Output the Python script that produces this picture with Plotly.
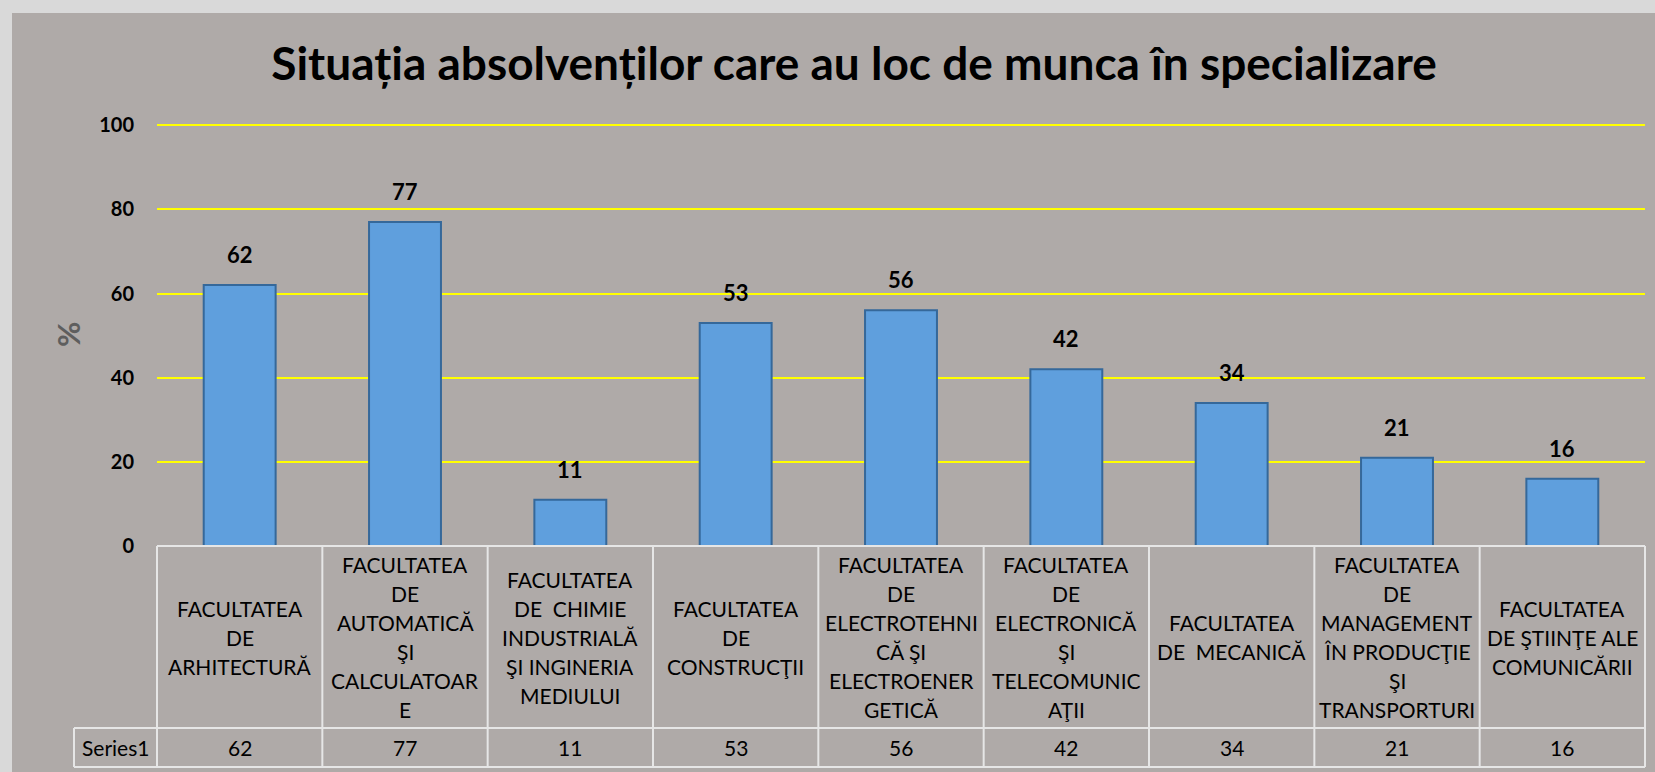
import plotly.graph_objects as go

# ---------------- data ----------------
categories = [
    "FACULTATEA<br>DE<br>ARHITECTURĂ",
    "FACULTATEA<br>DE<br>AUTOMATICĂ<br>ŞI<br>CALCULATOAR<br>E",
    "FACULTATEA<br>DE  CHIMIE<br>INDUSTRIALĂ<br>ŞI INGINERIA<br>MEDIULUI",
    "FACULTATEA<br>DE<br>CONSTRUCŢII",
    "FACULTATEA<br>DE<br>ELECTROTEHNI<br>CĂ ŞI<br>ELECTROENER<br>GETICĂ",
    "FACULTATEA<br>DE<br>ELECTRONICĂ<br>ŞI<br>TELECOMUNIC<br>AŢII",
    "FACULTATEA<br>DE  MECANICĂ",
    "FACULTATEA<br>DE<br>MANAGEMENT<br>ÎN PRODUCŢIE<br>ŞI<br>TRANSPORTURI",
    "FACULTATEA<br>DE ŞTIINŢE ALE<br>COMUNICĂRII",
]
values = [62, 77, 11, 53, 56, 42, 34, 21, 16]
series_name = "Series1"
y_ticks = [0, 20, 40, 60, 80, 100]
title_text = "Situația absolvenților care au loc de munca în specializare"
y_title = "%"

# ---------------- layout geometry (pixels) ----------------
W, H = 1655, 772
Y_MAX = 101
L, R, T, B = 157, 10, 121, 226
PW, PH = W - L - R, H - T - B


def px_x(p):
    return (p - L) / PW


def px_y(p):
    return (H - B - p) / PH


FONT = "Lato, 'Open Sans', sans-serif"
OUTER = "#d9d9d9"
INNER = "#afaaa8"
GRID = "#ffff00"
TABLE_LINE = "#e6e6e6"
BAR = "#5f9fdd"
BAR_EDGE = "#35689a"

n = len(categories)
idx = list(range(n))

fig = go.Figure()
fig.add_trace(go.Bar(
    x=idx, y=values, width=0.435,
    marker=dict(color=BAR, line=dict(color=BAR_EDGE, width=2)),
    hoverinfo="skip", showlegend=False,
))

annotations = []
# data labels above bars
for i, v in zip(idx, values):
    annotations.append(dict(
        x=i, y=v, xref="x", yref="y", text=f"<b>{v}</b>", showarrow=False,
        yanchor="bottom", yshift=15, font=dict(family=FONT, size=22, color="black"),
    ))

# data table: category row and value row
cat_row_top, cat_row_bot, val_row_bot = 546, 728, 767
label_left = 74
LINE_H = 29
for i, (c, v) in enumerate(zip(categories, values)):
    lines = c.split("<br>")
    m = len(lines)
    for k, ln in enumerate(lines):
        annotations.append(dict(
            x=i, y=px_y((cat_row_top + cat_row_bot) / 2), xref="x", yref="paper",
            text=ln, showarrow=False, xanchor="center", yanchor="middle",
            yshift=((m - 1) / 2 - k) * LINE_H,
            font=dict(family=FONT, size=21, color="black"),
        ))
    annotations.append(dict(
        x=i, y=px_y((cat_row_bot + val_row_bot) / 2), xref="x", yref="paper",
        text=str(v), showarrow=False, xanchor="center", yanchor="middle",
        font=dict(family=FONT, size=21, color="black"),
    ))
annotations.append(dict(
    x=px_x((label_left + L) / 2), y=px_y((cat_row_bot + val_row_bot) / 2),
    xref="paper", yref="paper", text=series_name, showarrow=False,
    xanchor="center", yanchor="middle",
    font=dict(family=FONT, size=21, color="black"),
))
# y-axis title
annotations.append(dict(
    x=px_x(68), y=px_y(335), xref="paper", yref="paper", text=f"<b>{y_title}</b>",
    showarrow=False, textangle=-90, xanchor="center", yanchor="middle",
    font=dict(family=FONT, size=31, color="#5e5e5e"),
))

shapes = []
# outer light frame strips
shapes.append(dict(type="rect", xref="paper", yref="paper", layer="below",
                   x0=px_x(0), x1=px_x(W), y0=px_y(0), y1=px_y(13),
                   fillcolor=OUTER, line=dict(width=0)))
shapes.append(dict(type="rect", xref="paper", yref="paper", layer="below",
                   x0=px_x(0), x1=px_x(12), y0=px_y(0), y1=px_y(H),
                   fillcolor=OUTER, line=dict(width=0)))
# table grid
line = dict(color=TABLE_LINE, width=2)
shapes.append(dict(type="line", xref="paper", yref="paper", x0=0, x1=1,
                   y0=px_y(cat_row_top), y1=px_y(cat_row_top), line=line))
for yy in (cat_row_bot, val_row_bot):
    shapes.append(dict(type="line", xref="paper", yref="paper", x0=px_x(label_left), x1=1,
                       y0=px_y(yy), y1=px_y(yy), line=line))
for k in range(n + 1):
    shapes.append(dict(type="line", xref="paper", yref="paper", x0=k / n, x1=k / n,
                       y0=px_y(cat_row_top), y1=px_y(val_row_bot), line=line))
shapes.append(dict(type="line", xref="paper", yref="paper", x0=px_x(label_left), x1=px_x(label_left),
                   y0=px_y(cat_row_bot), y1=px_y(val_row_bot), line=line))

fig.update_layout(
    width=W, height=H,
    margin=dict(l=L, r=R, t=T, b=B, pad=0),
    paper_bgcolor=INNER, plot_bgcolor=INNER,
    title=dict(text=f"<b>{title_text}</b>", x=854 / W, xanchor="center",
               y=1 - 64 / H, yanchor="middle", yref="container",
               font=dict(family=FONT, size=46, color="black")),
    xaxis=dict(range=[-0.5, n - 0.5], showticklabels=False, showgrid=False,
               zeroline=False, showline=False, ticks="", fixedrange=True),
    yaxis=dict(range=[0, Y_MAX], tickvals=y_ticks, ticktext=[f"<b>{t}</b>" for t in y_ticks],
               showgrid=True, gridcolor=GRID, gridwidth=2, zeroline=False, showline=False,
               ticks="", ticklabelstandoff=22,
               tickfont=dict(family=FONT, size=20, color="black")),
    annotations=annotations, shapes=shapes, showlegend=False,
)

fig.write_html("out.html", config={"displayModeBar": False},
               post_script="document.body.style.margin='0';")
